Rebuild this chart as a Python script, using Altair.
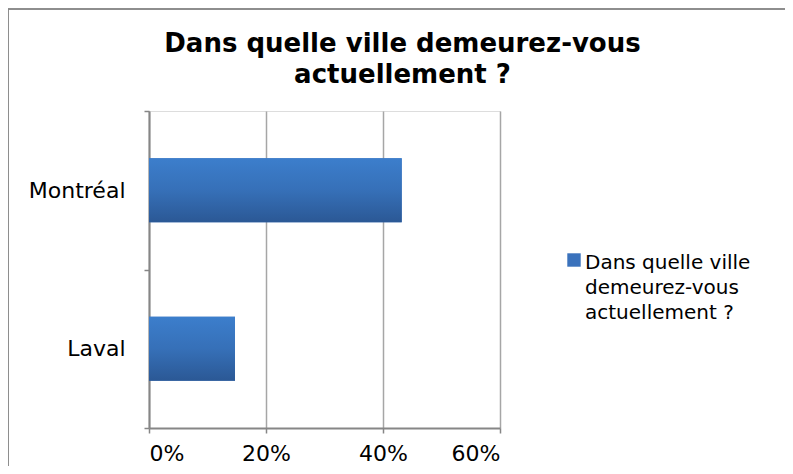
import altair as alt
import pandas as pd

villes = ["Montréal", "Laval"]
parts = [0.432, 0.147]
serie = "Dans quelle ville demeurez-vous actuellement ?"
serie_lignes = ["Dans quelle ville", "demeurez-vous", "actuellement ?"]

df = pd.DataFrame({"ville": villes, "part": parts, "serie": [serie] * len(villes)})

FONT = "DejaVu Sans"

y_enc = alt.Y(
    "ville:N",
    sort=villes,
    title=None,
    scale=alt.Scale(paddingInner=0, paddingOuter=0),
    axis=alt.Axis(
        tickBand="extent",
        domainColor="#868686",
        domainWidth=2,
        tickColor="#868686",
        tickWidth=1.5,
        tickSize=5,
        labelFont=FONT,
        labelFontSize=22,
        labelColor="#000000",
        labelPadding=19,
        grid=False,
    ),
)
x_enc = alt.X(
    "part:Q",
    title=None,
    scale=alt.Scale(domain=[0, 0.6], nice=False),
    axis=alt.Axis(
        values=[0, 0.2, 0.4, 0.6],
        format=".0%",
        domainColor="#868686",
        domainWidth=2,
        tickColor="#868686",
        tickWidth=1.5,
        tickSize=5,
        gridColor="#A6A6A6",
        gridWidth=1.5,
        labelFont=FONT,
        labelFontSize=22,
        labelColor="#000000",
        labelPadding=10,
    ),
)

base = alt.Chart(df)

solid = base.mark_bar(size=64).encode(
    y=y_enc,
    x=x_enc,
    color=alt.Color(
        "serie:N",
        scale=alt.Scale(range=["#3A72BC"]),
        legend=alt.Legend(
            title=serie_lignes,
            titleOrient="right",
            titleAnchor="start",
            titleBaseline="top",
            titleFont=FONT,
            titleFontSize=20,
            titleFontWeight="normal",
            titleColor="#000000",
            titleLineHeight=25,
            titlePadding=4,
            titleLimit=400,
            orient="none",
            legendX=418,
            legendY=142,
            symbolType="square",
            symbolSize=180,
            symbolStrokeWidth=0,
            labelExpr="''",
            labelOffset=0,
            padding=0,
        ),
    ),
)

grad = base.mark_bar(
    size=64,
    fill=alt.Gradient(
        gradient="linear",
        stops=[
            alt.GradientStop(color="#3C7ECC", offset=0),
            alt.GradientStop(color="#3670B8", offset=0.5),
            alt.GradientStop(color="#2B5895", offset=1),
        ],
        x1=0, x2=0, y1=0, y2=1,
    ),
).encode(y=y_enc, x=x_enc)

frame = base.mark_rect(fill=None, stroke="#878787", strokeWidth=1.5).encode(
    x=alt.value(-141), x2=alt.value(700), y=alt.value(-102), y2=alt.value(400)
)

chart = (
    alt.layer(solid, grad, frame)
    .properties(
        width=351,
        height=317,
        autosize=alt.AutoSizeParams(type="none"),
        padding={"left": 141, "top": 103, "right": 285, "bottom": 38},
        title=alt.TitleParams(
            text=["Dans quelle ville demeurez-vous", "actuellement ?"],
            font=FONT,
            fontSize=26,
            fontWeight="bold",
            color="#000000",
            anchor="middle",
            frame="group",
            baseline="bottom",
            dx=78,
            dy=106,
            offset=0,
            lineHeight=31,
        ),
    )
    .configure_view(stroke=None)
    .configure(background="white")
)

chart.save("out.html", embed_options={"renderer": "svg", "actions": False})
